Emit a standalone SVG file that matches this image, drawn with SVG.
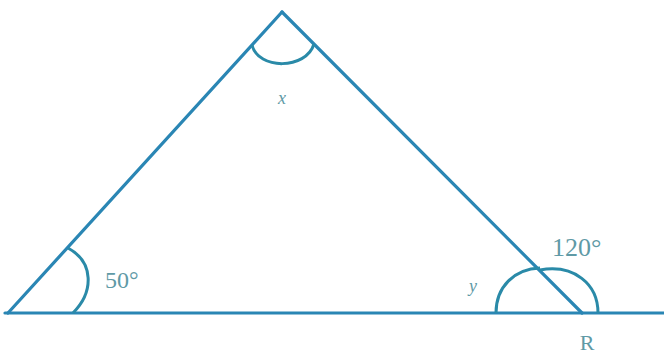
<svg xmlns="http://www.w3.org/2000/svg" width="664" height="358" viewBox="0 0 664 358">
<style>
.ln{fill:none;stroke:#2a86b4;stroke-width:3.2;stroke-linecap:round;stroke-linejoin:round}
.arc{fill:none;stroke:#2a8aa8;stroke-width:3}
.t{font-family:"Liberation Serif",serif;fill:#5f9aa6}
</style>
<rect width="664" height="358" fill="#ffffff"/>
<g id="connectors">
<line class="ln" x1="5" y1="313" x2="664" y2="313" stroke-width="4"/>
<line class="ln" x1="8" y1="313" x2="282" y2="12"/>
<line class="ln" x1="282" y1="12" x2="582" y2="313"/>
</g>
<g id="angle-x">
<path class="arc" d="M252,45 C258,70 306,70 314,44"/>
<text class="t" x="282" y="104" font-size="18" font-style="italic" text-anchor="middle">x</text>
</g>
<g id="angle-50">
<path class="arc" d="M68,248 C94,262 94,292 73,313"/>
<text class="t" x="105" y="288" font-size="24">50°</text>
</g>
<g id="angle-y">
<path class="arc" d="M496,313 C496,287 514,269 540,268"/>
<text class="t" x="473" y="292" font-size="18" font-style="italic" text-anchor="middle">y</text>
</g>
<g id="angle-120">
<path class="arc" d="M540,270 C574,264 598,284 598,313"/>
<text class="t" x="552" y="256" font-size="26">120°</text>
</g>
<g id="label-R">
<text class="t" x="587" y="350" font-size="22" text-anchor="middle">R</text>
</g>
</svg>
